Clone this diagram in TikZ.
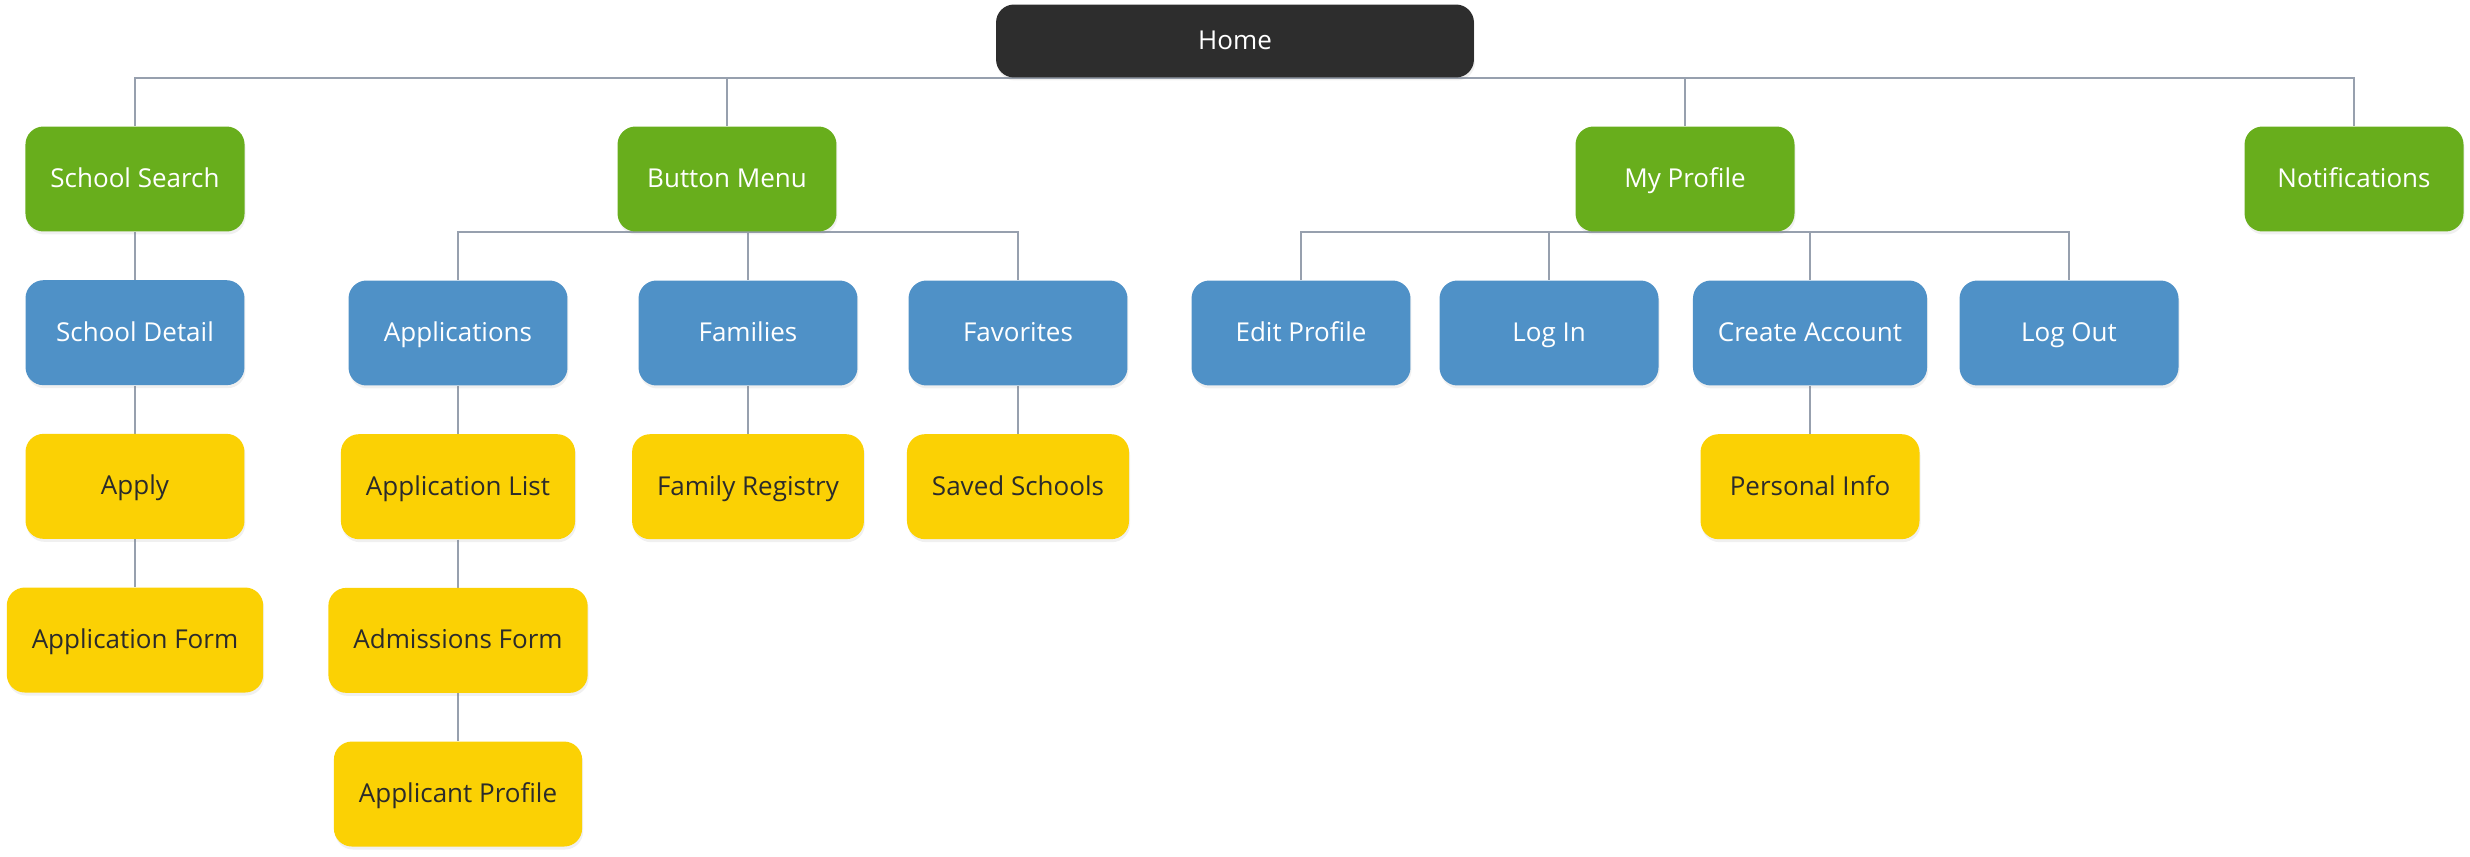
\documentclass[tikz,border=0pt]{standalone}
\usepackage{fontspec}
\setmainfont{Open Sans}
\usetikzlibrary{positioning,shadows,backgrounds}
\definecolor{homegray}{HTML}{2D2D2D}
\definecolor{topgreen}{HTML}{68AE1C}
\definecolor{midblue}{HTML}{4F91C7}
\definecolor{leafyellow}{HTML}{FBD104}
\definecolor{linkgray}{HTML}{97A0AE}
\definecolor{textdark}{HTML}{2B2B2B}
\tikzset{
  box/.style={rounded corners=0.36cm,minimum width=4.38cm,minimum height=2.1cm,
    inner xsep=0.5cm,font=\fontsize{14.8}{17}\selectfont,
    text height=0.95em,text depth=0pt,
    drop shadow={opacity=0.12,shadow xshift=0.02cm,shadow yshift=-0.06cm}},
  homebox/.style={box,fill=homegray,text=white,minimum width=9.56cm,minimum height=1.46cm},
  greenbox/.style={box,fill=topgreen,text=white},
  bluebox/.style={box,fill=midblue,text=white},
  yellowbox/.style={box,fill=leafyellow,text=textdark},
  elbow/.style={to path={-| (\tikztotarget)}},
  every edge/.style={draw=linkgray,line width=1.1pt}
}
\begin{document}
\begin{tikzpicture}[x=0.02cm,y=-0.02cm,node distance=0.96cm]
  \useasboundingbox (0,0) rectangle (2470,856);

  \node[homebox] (home) at (1235,41) {Home};

  \node[greenbox] (search) at (135,179) {School Search};
  \node[greenbox] (bmenu) at (727,179) {Button Menu};
  \node[greenbox] (myprof) at (1685,179) {My Profile};
  \node[greenbox] (notif) at (2354,179) {Notifications};

  \node[bluebox,below=of search] (detail) {School Detail};
  \node[bluebox] (apps) at (458,333) {Applications};
  \node[bluebox] (fams) at (748,333) {Families};
  \node[bluebox] (favs) at (1018,333) {Favorites};
  \node[bluebox] (edit) at (1301,333) {Edit Profile};
  \node[bluebox] (login) at (1549,333) {Log In};
  \node[bluebox] (create) at (1810,333) {Create Account};
  \node[bluebox] (logout) at (2069,333) {Log Out};

  \node[yellowbox,below=of detail] (apply) {Apply};
  \node[yellowbox,below=of apply] (appform) {Application Form};
  \node[yellowbox,below=of apps] (applist) {Application List};
  \node[yellowbox,below=of applist] (admform) {Admissions Form};
  \node[yellowbox,below=of admform] (applicant) {Applicant Profile};
  \node[yellowbox,below=of fams] (registry) {Family Registry};
  \node[yellowbox,below=of favs] (saved) {Saved Schools};
  \node[yellowbox,below=of create] (personal) {Personal Info};

  \begin{scope}[on background layer]
  \path
    (home.south) edge[elbow] (search.north)
                 edge[elbow] (bmenu.north)
                 edge[elbow] (myprof.north)
                 edge[elbow] (notif.north)
    (bmenu.south) edge[elbow] (apps.north)
                  edge[elbow] (fams.north)
                  edge[elbow] (favs.north)
    (myprof.south) edge[elbow] (edit.north)
                   edge[elbow] (login.north)
                   edge[elbow] (create.north)
                   edge[elbow] (logout.north)
    (search) edge (detail)
    (detail) edge (apply)
    (apply) edge (appform)
    (apps) edge (applist)
    (applist) edge (admform)
    (admform) edge (applicant)
    (fams) edge (registry)
    (favs) edge (saved)
    (create) edge (personal);
  \end{scope}
\end{tikzpicture}
\end{document}
